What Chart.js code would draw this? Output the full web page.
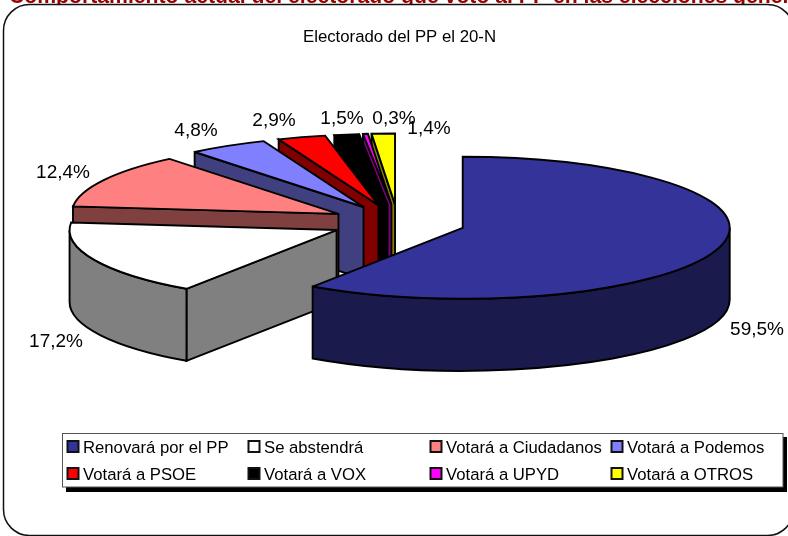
<!DOCTYPE html>
<html><head><meta charset="utf-8">
<style>html,body{margin:0;padding:0;background:#fff;overflow:hidden}canvas{display:block}</style>
<script src="https://cdn.jsdelivr.net/npm/chart.js@4"></script>
</head><body>
<canvas id="c" width="788" height="536"></canvas>
<script>
const categories = ['Renovará por el PP','Se abstendrá','Votará a Ciudadanos','Votará a Podemos','Votará a PSOE','Votará a VOX','Votará a UPYD','Votará a OTROS'];
const values = [59.5,17.2,12.4,4.8,2.9,1.5,0.3,1.4];
const topColors = ['#333399','#FFFFFF','#FF8080','#8080FF','#FF0000','#000000','#FF00FF','#FFFF00'];
const sideColors = ['#1A1A4D','#808080','#804040','#404080','#800000','#000000','#800080','#808000'];
const labelSpots = [[757,330],[56,342],[63,173],[196,131],[274,121],[342,119],[394,119],[429,129]];
const headingText = 'Comportamiento actual del electorado que votó al PP en las elecciones generales';
const titleText = 'Electorado del PP el 20-N';

const FONT = '"Liberation Sans", Arial, sans-serif';
const PIE = {cx:398, cy:222.5, r:267, k:0.266, explode:67.7, depth:72};

const pie3d = {
  id:'pie3d',
  beforeDatasetsDraw(chart){
    const ctx = chart.ctx, arcs = chart.getDatasetMeta(0).data;
    const {r,k,depth,explode,cx,cy} = PIE, ry = r*k;
    for(let i=arcs.length-1;i>=0;i--){
      const a = arcs[i], s=a.startAngle, e=a.endAngle, h=(s+e)/2;
      const ax = cx+Math.cos(h)*explode, ay = cy+Math.sin(h)*explode*k;
      const px = t=>ax+r*Math.cos(t), py = t=>ay+ry*Math.sin(t);
      ctx.save();
      ctx.lineWidth=1.9; ctx.lineJoin='miter'; ctx.miterLimit=3; ctx.strokeStyle='#000';
      ctx.fillStyle=sideColors[i];
      const radial = t=>{
        ctx.beginPath();
        ctx.moveTo(ax,ay); ctx.lineTo(px(t),py(t));
        ctx.lineTo(px(t),py(t)+depth); ctx.lineTo(ax,ay+depth); ctx.closePath();
        ctx.fill(); ctx.stroke();
      };
      if(Math.cos(s)<-1e-6) radial(s);
      if(Math.cos(e)>1e-6) radial(e);
      const t0=Math.max(s,0), t1=Math.min(e,Math.PI);
      if(t1>t0){
        ctx.beginPath();
        ctx.ellipse(ax,ay,r,ry,0,t0,t1);
        ctx.lineTo(px(t1),py(t1)+depth);
        ctx.ellipse(ax,ay+depth,r,ry,0,t1,t0,true);
        ctx.closePath();
        ctx.fill(); ctx.stroke();
      }
      // top face: the library's own arc, squashed into perspective
      ctx.save();
      ctx.translate(ax,ay); ctx.scale(1,k); ctx.translate(-a.x,-a.y);
      a.draw(ctx);
      ctx.restore();
      ctx.beginPath();
      ctx.moveTo(ax,ay);
      ctx.ellipse(ax,ay,r,ry,0,s,e);
      ctx.closePath();
      ctx.stroke();
      ctx.restore();
    }
    return false;
  },
  afterDraw(chart){
    const ctx = chart.ctx;
    ctx.save();
    ctx.textBaseline='middle'; ctx.textAlign='center';
    ctx.fillStyle='#000'; ctx.font='19px '+FONT;
    values.forEach((v,i)=>{
      ctx.fillText(v.toFixed(1).replace('.',',')+'%',labelSpots[i][0],labelSpots[i][1]);
    });
    // legend
    ctx.fillStyle='#000'; ctx.fillRect(66,437,721,55);
    ctx.fillStyle='#fff'; ctx.fillRect(62.5,433.5,720.5,53.5);
    ctx.strokeStyle='#555'; ctx.lineWidth=1; ctx.strokeRect(62.5,433.5,720.5,53.5);
    const colX=[67.5,248.5,430.5,611.5], rowY=[447,474];
    ctx.font='16.7px '+FONT; ctx.textAlign='left';
    categories.forEach((c,i)=>{
      const x=colX[i%4], y=rowY[Math.floor(i/4)];
      ctx.fillStyle=topColors[i]; ctx.fillRect(x,y-6,11,11);
      ctx.strokeStyle='#111'; ctx.lineWidth=2; ctx.strokeRect(x,y-6,11,11);
      ctx.fillStyle='#000'; ctx.fillText(c,x+15.5,y+1);
    });
    ctx.restore();
  },
  beforeDraw(chart){
    const ctx = chart.ctx;
    ctx.save();
    ctx.fillStyle='#fff'; ctx.fillRect(0,0,788,536);
    ctx.font='bold 21.2px '+FONT; ctx.fillStyle='#990000'; ctx.textAlign='left'; ctx.textBaseline='alphabetic';
    ctx.fillText(headingText,9,3);
    ctx.beginPath(); ctx.roundRect(3.5,4.5,790,531,26);
    ctx.fillStyle='#fff'; ctx.fill();
    ctx.strokeStyle='#111'; ctx.lineWidth=1.5; ctx.stroke();
    ctx.restore();
  }
};

new Chart(document.getElementById('c'),{
  type:'pie',
  data:{labels:categories,datasets:[{data:values,backgroundColor:topColors,borderWidth:0,radius:PIE.r}]},
  options:{
    responsive:false,animation:false,
    layout:{padding:{left:11,right:0}},
    plugins:{
      legend:{display:false},tooltip:{enabled:false},
      title:{display:true,text:titleText,color:'#000',font:{family:FONT,size:16.8,weight:'normal'},padding:{top:27,bottom:4}}
    }
  },
  plugins:[pie3d]
});
</script>
</body></html>
